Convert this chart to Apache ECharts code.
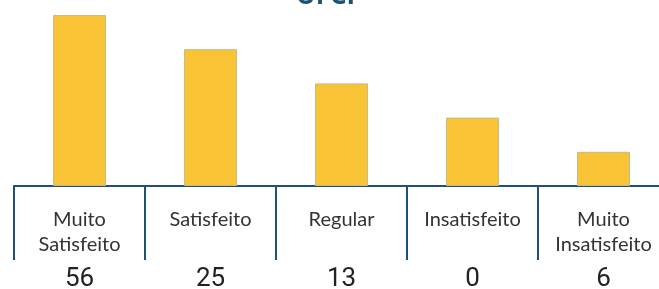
<!DOCTYPE html>
<html>
<head>
<meta charset="utf-8">
<script src="https://cdn.jsdelivr.net/npm/echarts@6/dist/echarts.min.js"></script>
<style>
  html, body { margin: 0; padding: 0; background: #fff; }
  #chart { width: 659px; height: 289px; }
</style>
</head>
<body>
<div id="chart"></div>
<script>
// categories and the counts printed under them
const categories = ['Muito\nSatisfeito', 'Satisfeito', 'Regular', 'Insatisfeito', 'Muito\nInsatisfeito'];
const counts = ['56', '25', '13', '0', '6'];
// bar heights as drawn (decorative steps, not the counts)
const barHeights = [5, 4, 3, 2, 1];

const blue = '#1d5176';
const chart = echarts.init(document.getElementById('chart'));
chart.setOption({
  backgroundColor: '#fff',
  animation: false,
  title: {
    text: 'UFCP',
    left: 'center',
    top: -21,
    textStyle: {color: blue, fontSize: 26, fontWeight: 'bold', fontFamily: 'Open Sans'}
  },
  grid: {left: 14, width: 655, top: 15, bottom: 103, outerBoundsMode: 'none'},
  xAxis: [
    {
      type: 'category',
      data: categories,
      axisLine: {lineStyle: {color: blue, width: 2}},
      axisTick: {show: true, interval: 0, length: 74, lineStyle: {color: blue, width: 2}},
      axisLabel: {
        interval: 0,
        margin: 21,
        fontSize: 20,
        lineHeight: 25,
        color: '#333',
        fontFamily: 'Lato'
      }
    },
    {
      type: 'category',
      position: 'bottom',
      offset: 80,
      data: counts,
      axisLine: {show: false},
      axisTick: {show: false},
      axisLabel: {interval: 0, margin: 0, fontSize: 26, color: '#222', fontFamily: 'Roboto'}
    }
  ],
  yAxis: {type: 'value', min: 0, max: 5, show: false},
  series: [
    {
      type: 'bar',
      data: barHeights,
      barWidth: 53,
      itemStyle: {color: '#f9c336', borderColor: '#c9b888', borderWidth: 1}
    }
  ]
});
</script>
</body>
</html>
